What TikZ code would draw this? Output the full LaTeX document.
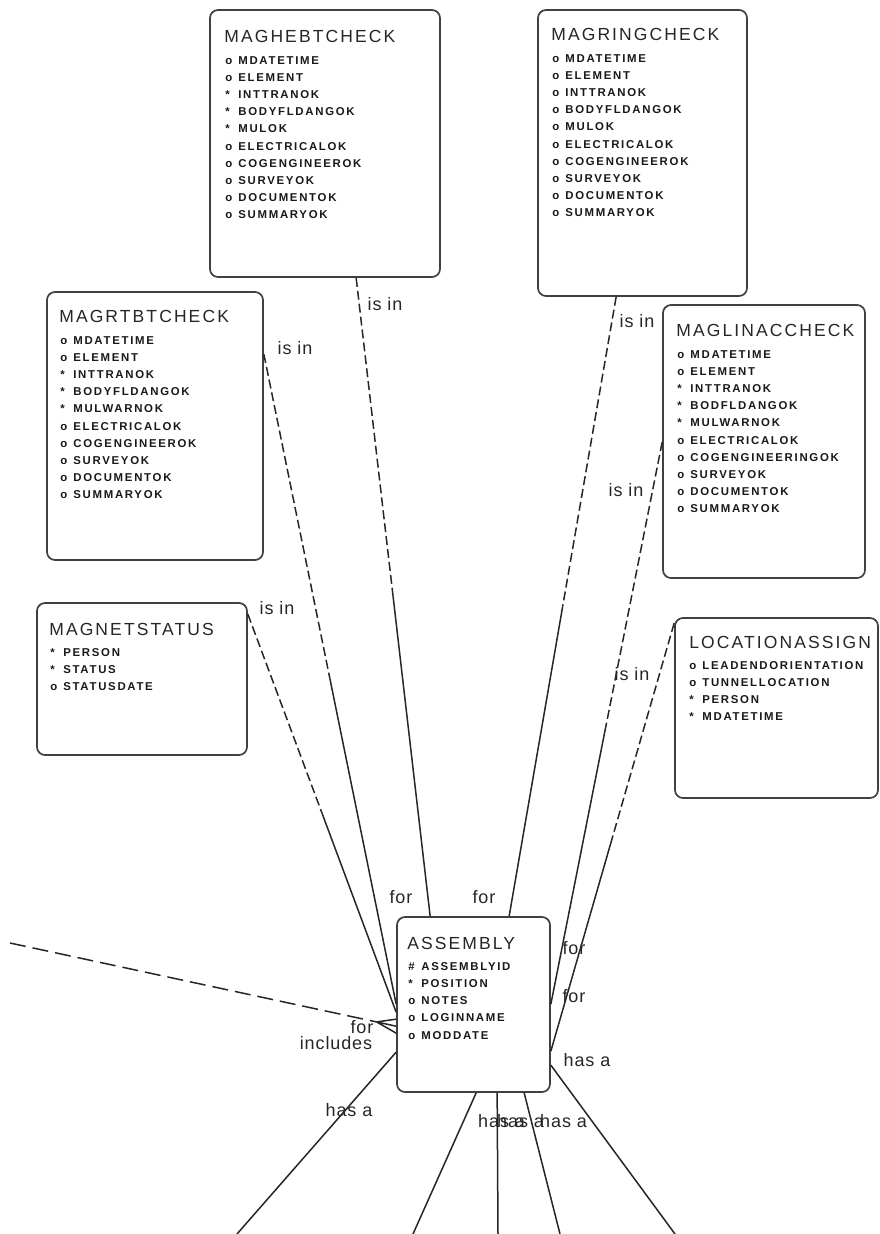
\documentclass[tikz,border=0pt]{standalone}
\usepackage{fontspec}
\setmainfont{Liberation Sans}
\newfontfamily\titlefont[LetterSpace=12]{Liberation Sans}
\newfontfamily\attrfont[LetterSpace=15]{Liberation Sans}
\newfontfamily\rolefont[LetterSpace=5]{Liberation Sans}
\usetikzlibrary{calc}
\tikzstyle{entity}=[
	rectangle,
	draw=black!75,
	line width=1.7pt,
	rounded corners=8pt,
	fill=white,
	inner sep=0pt
]
\tikzstyle{entname}=[
	anchor=north west,
	inner sep=0pt,
	text=black!85,
	font=\titlefont\fontsize{17.5}{20}\selectfont
]
\tikzstyle{attrs}=[
	anchor=north west,
	inner sep=0pt,
	align=left,
	text=black!90,
	font=\attrfont\bfseries\fontsize{11.4}{17.2}\selectfont
]
\tikzstyle{rolename}=[
	inner sep=0pt,
	text=black!85,
	font=\rolefont\fontsize{18}{18}\selectfont
]
\tikzstyle{optional}=[
	line width=1.5pt,
	draw=black!85,
	dash pattern=on 9pt off 4pt
]
\tikzstyle{mandatory}=[
	line width=1.5pt,
	draw=black!85
]
\newcommand{\att}[2]{\makebox[13pt][l]{#1}#2}
\newcommand{\isinfor}[2]{%
	\draw[optional] (#1) -- ($(#1)!0.5!(#2)$);
	\draw[mandatory] ($(#1)!0.5!(#2)$) -- (#2);
}
\begin{document}
\begin{tikzpicture}[x=1pt,y=-1pt]
\useasboundingbox (0,0) rectangle (879,1234);

% entities
\node [entity, minimum width=230, minimum height=267] (MagHebtCheck) at (325,143.5) {};
\node [entname] (MagHebtCheckName) at ([shift={(15,21)}]MagHebtCheck.north west) {MAGHEBTCHECK};
\node [attrs] (MagHebtCheckAttrs) at ([shift={(16,47)}]MagHebtCheck.north west) {%
	\att{o}{MDATETIME}\\ \att{o}{ELEMENT}\\ \att{*}{INTTRANOK}\\ \att{*}{BODYFLDANGOK}\\
	\att{*}{MULOK}\\ \att{o}{ELECTRICALOK}\\ \att{o}{COGENGINEEROK}\\ \att{o}{SURVEYOK}\\
	\att{o}{DOCUMENTOK}\\ \att{o}{SUMMARYOK}};

\node [entity, minimum width=209, minimum height=286] (MagRingCheck) at (642.5,153) {};
\node [entname] (MagRingCheckName) at ([shift={(14,19)}]MagRingCheck.north west) {MAGRINGCHECK};
\node [attrs] (MagRingCheckAttrs) at ([shift={(15,45)}]MagRingCheck.north west) {%
	\att{o}{MDATETIME}\\ \att{o}{ELEMENT}\\ \att{o}{INTTRANOK}\\ \att{o}{BODYFLDANGOK}\\
	\att{o}{MULOK}\\ \att{o}{ELECTRICALOK}\\ \att{o}{COGENGINEEROK}\\ \att{o}{SURVEYOK}\\
	\att{o}{DOCUMENTOK}\\ \att{o}{SUMMARYOK}};

\node [entity, minimum width=216, minimum height=268] (MagRtbtCheck) at (155,426) {};
\node [entname] (MagRtbtCheckName) at ([shift={(13,19)}]MagRtbtCheck.north west) {MAGRTBTCHECK};
\node [attrs] (MagRtbtCheckAttrs) at ([shift={(14,45)}]MagRtbtCheck.north west) {%
	\att{o}{MDATETIME}\\ \att{o}{ELEMENT}\\ \att{*}{INTTRANOK}\\ \att{*}{BODYFLDANGOK}\\
	\att{*}{MULWARNOK}\\ \att{o}{ELECTRICALOK}\\ \att{o}{COGENGINEEROK}\\ \att{o}{SURVEYOK}\\
	\att{o}{DOCUMENTOK}\\ \att{o}{SUMMARYOK}};

\node [entity, minimum width=202, minimum height=273] (MagLinacCheck) at (764,441.5) {};
\node [entname] (MagLinacCheckName) at ([shift={(14,20)}]MagLinacCheck.north west) {MAGLINACCHECK};
\node [attrs] (MagLinacCheckAttrs) at ([shift={(15,46)}]MagLinacCheck.north west) {%
	\att{o}{MDATETIME}\\ \att{o}{ELEMENT}\\ \att{*}{INTTRANOK}\\ \att{*}{BODFLDANGOK}\\
	\att{*}{MULWARNOK}\\ \att{o}{ELECTRICALOK}\\ \att{o}{COGENGINEERINGOK}\\ \att{o}{SURVEYOK}\\
	\att{o}{DOCUMENTOK}\\ \att{o}{SUMMARYOK}};

\node [entity, minimum width=210, minimum height=152] (MagnetStatus) at (142,679) {};
\node [entname] (MagnetStatusName) at ([shift={(13,21)}]MagnetStatus.north west) {MAGNETSTATUS};
\node [attrs] (MagnetStatusAttrs) at ([shift={(14,46)}]MagnetStatus.north west) {%
	\att{*}{PERSON}\\ \att{*}{STATUS}\\ \att{o}{STATUSDATE}};

\node [entity, minimum width=203, minimum height=180] (LocAssign) at (776.5,708) {};
\node [entname] (LocAssignName) at ([shift={(15,19)}]LocAssign.north west) {LOCATIONASSIGN};
\node [attrs] (LocAssignAttrs) at ([shift={(15,44)}]LocAssign.north west) {%
	\att{o}{LEADENDORIENTATION}\\ \att{o}{TUNNELLOCATION}\\ \att{*}{PERSON}\\ \att{*}{MDATETIME}};

\node [entity, minimum width=153, minimum height=175] (Assembly) at (473.5,1004.5) {};
\node [entname] (AssemblyName) at ([shift={(11,21)}]Assembly.north west) {ASSEMBLY};
\node [attrs] (AssemblyAttrs) at ([shift={(12,46)}]Assembly.north west) {%
	\att{\#}{ASSEMBLYID}\\ \att{*}{POSITION}\\ \att{o}{NOTES}\\ \att{o}{LOGINNAME}\\ \att{o}{MODDATE}};

% connector ends
\coordinate (HebtEnd) at ([shift={(147,0)}]MagHebtCheck.south west);
\coordinate (RtbtEnd) at ([shift={(0,63)}]MagRtbtCheck.north east);
\coordinate (StatusEnd) at ([shift={(0,12)}]MagnetStatus.north east);
\coordinate (RingEnd) at ([shift={(79,0)}]MagRingCheck.south west);
\coordinate (LinacEnd) at ([shift={(0,138)}]MagLinacCheck.north west);
\coordinate (LocEnd) at ([shift={(0,6)}]LocAssign.north west);
\coordinate (AsmHebt) at ([shift={(34,0)}]Assembly.north west);
\coordinate (AsmRtbt) at ([shift={(0,88)}]Assembly.north west);
\coordinate (AsmStatus) at ([shift={(0,96)}]Assembly.north west);
\coordinate (AsmRing) at ([shift={(113,0)}]Assembly.north west);
\coordinate (AsmLinac) at ([shift={(0,88)}]Assembly.north east);
\coordinate (AsmLoc) at ([shift={(0,135)}]Assembly.north east);
\coordinate (AsmIncl) at ([shift={(0,110)}]Assembly.north west);
\coordinate (AsmHasA1) at ([shift={(0,136)}]Assembly.north west);
\coordinate (AsmHasA2) at ([shift={(80,0)}]Assembly.south west);
\coordinate (AsmHasA3) at ([shift={(101,0)}]Assembly.south west);
\coordinate (AsmHasA4) at ([shift={(128,0)}]Assembly.south west);
\coordinate (AsmHasA5) at ([shift={(0,149)}]Assembly.north east);
\coordinate (OffLeft) at (10,943);
\coordinate (Off1) at (237,1234);
\coordinate (Off2) at (413,1234);
\coordinate (Off3) at (498,1234);
\coordinate (Off4) at (560,1234);
\coordinate (Off5) at (675,1234);

% relationships
\isinfor{HebtEnd}{AsmHebt}
\isinfor{RtbtEnd}{AsmRtbt}
\isinfor{StatusEnd}{AsmStatus}
\isinfor{RingEnd}{AsmRing}
\isinfor{LinacEnd}{AsmLinac}
\isinfor{LocEnd}{AsmLoc}
\coordinate (InclFork) at ($(AsmIncl)!20pt!(OffLeft)$);
\draw [optional, dash pattern=on 16pt off 7pt] (OffLeft) -- (InclFork);
\draw [mandatory] (InclFork) -- ([shift={(0,-7)}]AsmIncl)
	(InclFork) -- (AsmIncl)
	(InclFork) -- ([shift={(0,7)}]AsmIncl);
\draw [mandatory] (AsmHasA1) -- (Off1);
\draw [mandatory] (AsmHasA2) -- (Off2);
\draw [mandatory] (AsmHasA3) -- (Off3);
\draw [mandatory] (AsmHasA4) -- (Off4);
\draw [mandatory] (AsmHasA5) -- (Off5);

% role names
\node [rolename] (IsIn1) at (385,304) {is in};
\node [rolename] (IsIn2) at (295,348) {is in};
\node [rolename] (IsIn3) at (277,608) {is in};
\node [rolename] (IsIn4) at (637,321) {is in};
\node [rolename] (IsIn5) at (626,490) {is in};
\node [rolename] (IsIn6) at (632,674) {is in};
\node [rolename] (For1) at (401,897) {for};
\node [rolename] (For4) at (484,897) {for};
\node [rolename] (For5) at (574,948) {for};
\node [rolename] (For6) at (574,996) {for};
\node [rolename] (For7) at (362,1027) {for};
\node [rolename] (Includes) at (336,1043) {includes};
\node [rolename] (HasA1) at (349,1110) {has a};
\node [rolename] (HasA5) at (587,1060) {has a};
\node [rolename, anchor=west] (HasA2) at (478,1121) {has a};
\node [rolename, anchor=west] (HasA3) at (497,1121) {has a};
\node [rolename, anchor=west] (HasA4) at (540,1121) {has a};
\end{tikzpicture}
\end{document}
